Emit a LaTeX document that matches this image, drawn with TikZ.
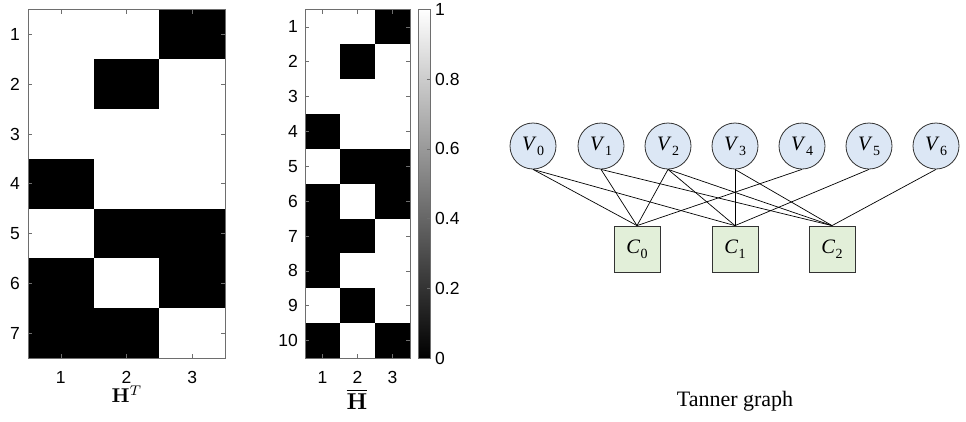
\documentclass[tikz,border=0pt]{standalone}
\usepackage[no-math]{fontspec}
\usepackage{graphicx}
\setmainfont{Liberation Serif}
\newfontfamily\arialf{Liberation Sans}
\definecolor{vblue}{RGB}{220,231,245}
\definecolor{cgreen}{RGB}{226,239,217}
\definecolor{axgray}{RGB}{110,110,110}
\newcommand\lbl[2]{\textit{#1}\kern0.5pt\raisebox{-0.25em}{\fontsize{14}{14}\selectfont #2}}
\tikzset{
  vnode/.style={circle, draw=black!80, fill=vblue, line width=0.8pt, minimum size=46pt, inner sep=0pt, font=\fontsize{20.5}{20.5}\selectfont},
  cnode/.style={rectangle, draw=black!80, fill=cgreen, line width=0.8pt, minimum size=46pt, inner sep=0pt, font=\fontsize{20.5}{20.5}\selectfont},
  edge/.style={draw=black, line width=0.7pt},
  ticklbl/.style={inner sep=0pt, font=\arialf\fontsize{17.5}{17.5}\selectfont},
  axbox/.style={draw=axgray, line width=0.8pt},
  tickm/.style={draw=axgray, line width=0.6pt},
}
\begin{document}
\begin{tikzpicture}[x=1pt,y=-1pt]
\useasboundingbox (0,0) rectangle (966,421);
% ---------- left matrix H^T ----------
\def\lx{28}\def\ly{9.5}\def\lw{65.67}\def\lh{49.79}
\foreach \r/\c in {1/3,2/2,4/1,5/2,5/3,6/1,6/3,7/1,7/2}
  \fill[black] ({\lx+(\c-1)*\lw},{\ly+(\r-1)*\lh}) rectangle ++(\lw,\lh);
\draw[axbox] (\lx,\ly) rectangle (225,358);
\foreach \c in {1,2,3} {
  \draw[tickm] ({\lx+(\c-0.5)*\lw},358) -- ++(0,-4);
  \draw[tickm] ({\lx+(\c-0.5)*\lw},\ly) -- ++(0,4);
  \node[ticklbl] (hx\c) at ({\lx+(\c-0.5)*\lw},377) {\c};
}
\foreach \r in {1,...,7} {
  \draw[tickm] (\lx,{\ly+(\r-0.5)*\lh}) -- ++(4,0);
  \draw[tickm] (225,{\ly+(\r-0.5)*\lh}) -- ++(-4,0);
  \node[ticklbl, anchor=east] (hy\r) at (20,{\ly+(\r-0.5)*\lh}) {\r};
}
\node[inner sep=0pt] (htlabel) at (127,394) {\scalebox{2}{$\mathbf{H}^T$}};
% ---------- middle matrix Hbar ----------
\def\mx{305}\def\my{9.5}\def\mw{35}\def\mh{34.85}
\foreach \r/\c in {1/3,2/2,4/1,5/2,5/3,6/1,6/3,7/1,7/2,8/1,9/2,10/1,10/3}
  \fill[black] ({\mx+(\c-1)*\mw},{\my+(\r-1)*\mh}) rectangle ++(\mw,\mh);
\draw[axbox] (\mx,\my) rectangle (410,358);
\foreach \c in {1,2,3} {
  \draw[tickm] ({\mx+(\c-0.5)*\mw},358) -- ++(0,-4);
  \draw[tickm] ({\mx+(\c-0.5)*\mw},\my) -- ++(0,4);
  \node[ticklbl] (bx\c) at ({\mx+(\c-0.5)*\mw},377) {\c};
}
\foreach \r in {1,...,10} {
  \draw[tickm] (\mx,{\my+(\r-0.5)*\mh}) -- ++(4,0);
  \draw[tickm] (410,{\my+(\r-0.5)*\mh}) -- ++(-4,0);
  \node[ticklbl, anchor=east] (by\r) at (298,{\my+(\r-0.5)*\mh}) {\r};
}
\node[inner sep=0pt] (hblabel) at (357,399) {\scalebox{2.3}{$\overline{\mathbf{H}}$}};
% ---------- colorbar ----------
\shade[bottom color=black, top color=white] (418,9.5) rectangle (430,358);
\draw[axbox] (418,9.5) rectangle (430,358);
\foreach \v/\t in {0/0,0.2/0.2,0.4/0.4,0.6/0.6,0.8/0.8,1/1} {
  \draw[tickm] (430,{358-\v*348.5}) -- ++(-3,0);
  \node[ticklbl, anchor=west] (cb\v) at (435,{358-\v*348.5}) {\t};
}
% ---------- Tanner graph ----------
\foreach \i/\x in {0/533,1/601,2/668,3/735,4/802,5/869,6/936}
  \node[vnode] (v\i) at (\x,146) {\lbl{V}{\i}};
\foreach \i/\x in {0/637,1/735,2/832}
  \node[cnode] (c\i) at (\x,249) {\lbl{C}{\i}};
\foreach \a/\b in {0/0,0/1,1/0,1/2,2/0,2/1,2/2,3/1,3/2,4/0,5/1,6/2}
  \draw[edge] (v\a.south) -- (c\b.north);
\node[inner sep=0pt, font=\fontsize{22}{22}\selectfont] (tlabel) at (735,401) {Tanner graph};
\end{tikzpicture}
\end{document}
